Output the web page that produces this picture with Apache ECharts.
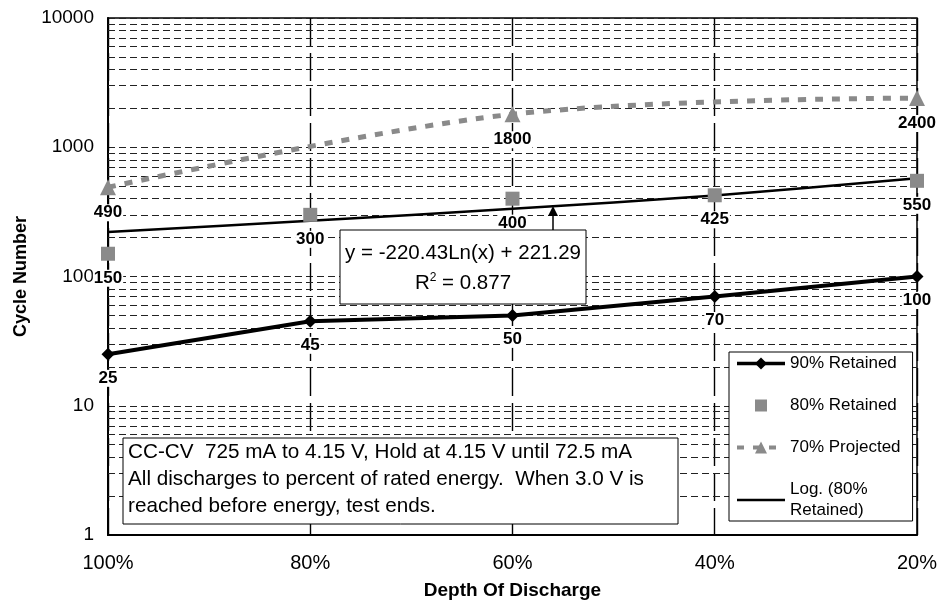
<!DOCTYPE html>
<html><head><meta charset="utf-8">
<script src="https://cdn.jsdelivr.net/npm/echarts@6/dist/echarts.min.js"></script>
<style>html,body{margin:0;padding:0;background:#fff}#c{width:940px;height:608px}</style>
</head><body><div id="c"></div>
<script>
const categories = ['100%', '80%', '60%', '40%', '20%'];
const retained90 = [25, 45, 50, 70, 100];
const retained80 = [150, 300, 400, 425, 550];
const projected70 = [490, null, 1800, null, 2400];
const logTrend80 = [221, 270, 334, 423, 576];
const minorGrid = [2, 3, 4, 5, 6, 7, 8, 9,
  20, 30, 40, 50, 60, 70, 80, 90,
  200, 300, 400, 500, 600, 700, 800, 900,
  2000, 3000, 4000, 5000, 6000, 7000, 8000, 9000];
const seriesNames = ['90% Retained', '80% Retained', '70% Projected', 'Log. (80%\nRetained)'];
const equationText = ['y = -220.43Ln(x) + 221.29', 'R', '2', ' = 0.877'];
const noteLines = [
  'CC-CV  725 mA to 4.15 V, Hold at 4.15 V until 72.5 mA',
  'All discharges to percent of rated energy.  When 3.0 V is',
  'reached before energy, test ends.'
];

const F = '"Liberation Sans", Arial, sans-serif';
const GRAY = '#8a8a8a';
const chart = echarts.init(document.getElementById('c'), null, {renderer: 'canvas'});

const dataLabel = {
  show: true, position: 'bottom', distance: 9,
  color: '#000', fontFamily: F, fontWeight: 'bold', fontSize: 17,
  backgroundColor: '#fff', padding: [0, 1, 0, 1], lineHeight: 17
};

chart.setOption({
  animation: false,
  backgroundColor: '#fff',
  grid: {left: 108, right: 18, top: 18, bottom: 73, show: true, borderColor: '#000', borderWidth: 1.5, backgroundColor: 'transparent'},
  legend: {
    orient: 'vertical', left: 729, top: 352,
    data: [
      {name: seriesNames[0], lineStyle: {width: 3.5, color: '#000'}},
      {name: seriesNames[1]},
      {name: seriesNames[2], lineStyle: {width: 4, color: GRAY, type: [7, 9]}},
      {name: seriesNames[3], icon: 'path://M0,0L48,0L48,2.6L0,2.6Z'}
    ],
    symbolKeepAspect: true,
    itemWidth: 48, itemHeight: 15, itemGap: 21,
    padding: [1, 12, 0, 6],
    backgroundColor: '#fff', borderColor: '#000', borderWidth: 1,
    textStyle: {color: '#000', fontFamily: F, fontSize: 17, lineHeight: 21},
    selectedMode: false,
    z: 20
  },
  xAxis: {
    type: 'category', data: categories, boundaryGap: false,
    axisLine: {show: true, lineStyle: {color: '#000', width: 2}},
    axisTick: {show: false},
    axisLabel: {color: '#000', fontFamily: F, fontSize: 20, margin: 18},
    splitLine: {show: true, lineStyle: {color: '#000', width: 1.4, type: [28, 7]}},
    name: 'Depth Of Discharge', nameLocation: 'middle', nameGap: 46,
    nameTextStyle: {color: '#000', fontFamily: F, fontSize: 19, fontWeight: 'bold'}
  },
  yAxis: {
    type: 'log', logBase: 10, min: 1, max: 10000,
    axisLine: {show: true, lineStyle: {color: '#000', width: 2}},
    axisTick: {show: false},
    axisLabel: {color: '#000', fontFamily: F, fontSize: 19, margin: 14, formatter: v => String(v)},
    splitLine: {show: true, lineStyle: {color: '#222', width: 1, type: [7, 4]}},
    name: 'Cycle Number', nameLocation: 'middle', nameGap: 72,
    nameTextStyle: {color: '#000', fontFamily: F, fontSize: 18, fontWeight: 'bold'}
  },
  series: [
    {
      name: seriesNames[0], type: 'line', data: retained90, z: 6,
      symbol: 'diamond', symbolSize: 13,
      lineStyle: {color: '#000', width: 4},
      itemStyle: {color: '#000'},
      label: dataLabel
    },
    {
      name: seriesNames[1], type: 'line', data: retained80, z: 5,
      symbol: 'rect', symbolSize: 14,
      lineStyle: {width: 0, opacity: 0},
      itemStyle: {color: GRAY},
      label: dataLabel
    },
    {
      name: seriesNames[2], type: 'line', data: projected70, z: 4,
      connectNulls: true, smooth: 0.35,
      symbol: 'triangle', symbolSize: 16,
      lineStyle: {color: GRAY, width: 5, type: [8, 9]},
      itemStyle: {color: GRAY},
      label: dataLabel
    },
    {
      name: seriesNames[3], type: 'line', data: logTrend80, z: 3,
      smooth: 0.3, symbol: 'none', showSymbol: false,
      lineStyle: {color: '#000', width: 2.5},
      itemStyle: {color: '#000'},
      markLine: {
        silent: true, symbol: 'none', z: 1, animation: false,
        label: {show: false},
        lineStyle: {color: '#222', width: 1, type: [7, 4]},
        data: minorGrid.map(v => ({yAxis: v}))
      }
    }
  ],
  graphic: [
    {type: 'rect', z: 50, shape: {x: 340, y: 230, width: 246, height: 74},
      style: {fill: '#fff', stroke: '#000', lineWidth: 1}},
    {type: 'text', z: 51, x: 463, y: 253,
      style: {text: equationText[0], fill: '#000', font: '20.5px ' + F, textAlign: 'center', textVerticalAlign: 'middle'}},
    {type: 'text', z: 51, x: 463, y: 283,
      style: {
        text: '{a|' + equationText[1] + '}{s|' + equationText[2] + '}{a|' + equationText[3] + '}',
        textAlign: 'center', textVerticalAlign: 'middle',
        rich: {
          a: {fontSize: 20.5, fontFamily: F, fill: '#000', color: '#000', verticalAlign: 'bottom', lineHeight: 22},
          s: {fontSize: 12, fontFamily: F, fill: '#000', color: '#000', verticalAlign: 'top', lineHeight: 22}
        }
      }},
    {type: 'line', z: 51, shape: {x1: 553, y1: 230, x2: 553, y2: 214}, style: {stroke: '#000', lineWidth: 1.5}},
    {type: 'polygon', z: 51, shape: {points: [[553, 206], [548, 216], [558, 216]]}, style: {fill: '#000'}},
    {type: 'rect', z: 50, shape: {x: 123, y: 438, width: 555, height: 86},
      style: {fill: '#fff', stroke: '#000', lineWidth: 1}},
    {type: 'text', z: 51, x: 128, y: 452,
      style: {text: noteLines[0], fill: '#000', font: '20.7px ' + F, textAlign: 'left', textVerticalAlign: 'middle'}},
    {type: 'text', z: 51, x: 128, y: 479,
      style: {text: noteLines[1], fill: '#000', font: '20.7px ' + F, textAlign: 'left', textVerticalAlign: 'middle'}},
    {type: 'text', z: 51, x: 128, y: 506,
      style: {text: noteLines[2], fill: '#000', font: '20.7px ' + F, textAlign: 'left', textVerticalAlign: 'middle'}}
  ]
});
</script>
</body></html>
